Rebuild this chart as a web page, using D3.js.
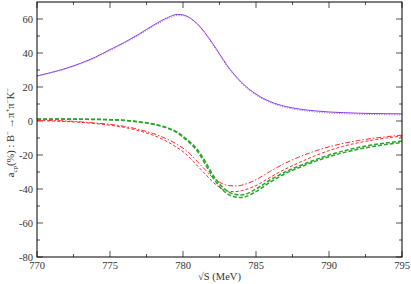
<!DOCTYPE html>
<html>
<head>
<meta charset="utf-8">
<script src="https://cdn.jsdelivr.net/npm/d3@7/dist/d3.min.js"></script>
<style>
  body { margin: 0; background: #fff; }
  svg text { font-family: "Liberation Serif", "Times New Roman", Times, "DejaVu Serif", serif; }
</style>
</head>
<body>
<div id="chart"></div>
<script>
const sqrtS = [770, 771, 772, 773, 774, 775, 776, 777, 778, 779, 779.6, 780, 780.5, 781, 781.5, 782, 782.5, 783, 783.5, 784, 785, 786, 787, 788, 789, 790, 791, 792, 793, 794, 795]

// purple, solid and dotted
const purpleSolid = [26.5, 28.6, 31, 34, 37.6, 42, 46.3, 51.2, 56.5, 61, 62.7, 62.4, 60.5, 57, 52, 46, 39.5, 33, 27.5, 22.8, 15.8, 11.3, 8.6, 7, 6, 5.3, 4.9, 4.6, 4.4, 4.3, 4.2]
const purpleDotted = [26.3, 28.4, 30.7, 33.7, 37.2, 41.5, 45.8, 50.6, 55.8, 60.3, 62, 61.9, 60.2, 56.6, 51.5, 45.4, 39, 32.4, 27, 22.2, 15.2, 10.7, 8, 6.4, 5.4, 4.7, 4.3, 4, 3.8, 3.7, 3.6]

// red, dash-dot and dashed
const redDashDot = [0.5, 0.3, 0, -0.5, -1.2, -2, -3.2, -5, -7.5, -11, -13.8, -16, -19.5, -24, -28.5, -33, -36, -37.8, -38.2, -37.8, -34.5, -29.5, -24.8, -21, -17.8, -15.2, -13.1, -11.5, -10.2, -9.2, -8.3]
const redDashed = [0.3, 0, -0.3, -0.8, -1.5, -2.5, -3.8, -5.8, -8.5, -12.5, -15.7, -18, -22, -26.5, -31, -35.5, -39, -41.2, -41.6, -41, -38, -33, -28.3, -24.3, -20.6, -17.4, -14.8, -12.8, -11.2, -9.9, -8.9]

// green, two dashed
const greenA = [1.2, 1.2, 1.2, 1.1, 1, 0.8, 0.4, -0.5, -1.8, -4.2, -6.5, -9, -12.5, -17, -23.5, -31, -37, -41, -43, -43.5, -40, -34.5, -30, -26.3, -23, -20, -17.6, -15.6, -14, -12.8, -11.8]
const greenB = [1.1, 1.1, 1.1, 1, 0.9, 0.7, 0.3, -0.6, -2, -4.5, -6.9, -9.5, -13.2, -18, -25, -32.5, -38.5, -42.6, -44.5, -45, -41.5, -35.8, -31, -27.2, -23.9, -21, -18.6, -16.6, -15, -13.7, -12.6]

const xTicks = [770, 775, 780, 785, 790, 795]
const yTicks = [-80, -60, -40, -20, 0, 20, 40, 60]

const margin = { top: 2, right: 9, bottom: 27, left: 37 }
const width = 411 - margin.left - margin.right
const height = 284 - margin.top - margin.bottom

const svg = d3
  .select('#chart')
  .append('svg')
  .attr('width', 411)
  .attr('height', 284)

const g = svg.append('g')
  .attr('transform', 'translate(' + margin.left + ',' + margin.top + ')')

const x = d3.scaleLinear().domain([770, 795]).range([0, width])
const y = d3.scaleLinear().domain([-80, 70]).range([height, 0])

// ticks, all drawn inward on all four sides
const tickColor = '#555'
const xMinor = d3.range(772.5, 795, 5)
const yMinor = d3.range(-70, 70, 20)

function ticks (vals, len, horiz) {
  vals.forEach(v => {
    if (horiz) {
      g.append('line').attr('x1', x(v)).attr('x2', x(v)).attr('y1', height).attr('y2', height - len).attr('stroke', tickColor)
      g.append('line').attr('x1', x(v)).attr('x2', x(v)).attr('y1', 0).attr('y2', len).attr('stroke', tickColor)
    } else {
      g.append('line').attr('y1', y(v)).attr('y2', y(v)).attr('x1', 0).attr('x2', len).attr('stroke', tickColor)
      g.append('line').attr('y1', y(v)).attr('y2', y(v)).attr('x1', width).attr('x2', width - len).attr('stroke', tickColor)
    }
  })
}
ticks(xTicks, 6, true)
ticks(xMinor, 3, true)
ticks(yTicks, 6, false)
ticks(yMinor, 3, false)

g.selectAll('.xlab')
  .data(xTicks)
  .enter()
  .append('text')
  .attr('x', d => x(d))
  .attr('y', height + 12)
  .attr('text-anchor', 'middle')
  .attr('font-size', 10.5)
  .attr('fill', '#333')
  .text(d => d)

g.selectAll('.ylab')
  .data(yTicks)
  .enter()
  .append('text')
  .attr('x', -4)
  .attr('y', d => y(d) + 3.5)
  .attr('text-anchor', 'end')
  .attr('font-size', 10.5)
  .attr('fill', '#333')
  .text(d => d)

// curves
const line = d3.line()
  .x((d, i) => x(sqrtS[i]))
  .y(d => y(d))
  .curve(d3.curveMonotoneX)

g.append('defs').append('clipPath').attr('id', 'clip')
  .append('rect').attr('width', width).attr('height', height)

const series = [
  { data: purpleSolid, color: '#8b3ce0', w: 1, dash: null },
  { data: purpleDotted, color: '#a070e8', w: 1, dash: '1,1.5' },
  { data: redDashDot, color: '#ff2a2a', w: 1, dash: '5,2,1.5,2' },
  { data: redDashed, color: '#ff2a2a', w: 1, dash: '3,2' },
  { data: greenA, color: '#2aa52a', w: 1.5, dash: '4,2' },
  { data: greenB, color: '#2aa52a', w: 1.5, dash: '4,2' }
]

g.append('g').attr('clip-path', 'url(#clip)')
  .selectAll('path')
  .data(series)
  .enter()
  .append('path')
  .attr('d', d => line(d.data))
  .attr('fill', 'none')
  .attr('stroke', d => d.color)
  .attr('stroke-width', d => d.w)
  .attr('stroke-dasharray', d => d.dash)

// frame
g.append('rect')
  .attr('width', width)
  .attr('height', height)
  .attr('fill', 'none')
  .attr('stroke', '#000')
  .attr('stroke-width', 1)

// axis titles
svg.append('text')
  .attr('x', margin.left + x(782.5))
  .attr('y', 280)
  .attr('text-anchor', 'middle')
  .attr('font-size', 10.5)
  .attr('fill', '#333')
  .text('√S (MeV)')

const yt = svg.append('text')
  .attr('transform', 'translate(14,' + (margin.top + height / 2 + 3) + ') rotate(-90)')
  .attr('text-anchor', 'middle')
  .attr('font-size', 10.5)
  .attr('fill', '#333')
yt.append('tspan').text('a')
yt.append('tspan').attr('font-size', 7).attr('dy', 3).text('cp')
yt.append('tspan').attr('dy', -3).text('(%) : B')
yt.append('tspan').attr('font-size', 7).attr('dy', -4).text('−')
yt.append('tspan').attr('dy', 4).text(' →π')
yt.append('tspan').attr('font-size', 7).attr('dy', -4).text('+')
yt.append('tspan').attr('dy', 4).text('π')
yt.append('tspan').attr('font-size', 7).attr('dy', -4).text('−')
yt.append('tspan').attr('dy', 4).text('K')
yt.append('tspan').attr('font-size', 7).attr('dy', -4).text('−')
</script>
</body>
</html>
